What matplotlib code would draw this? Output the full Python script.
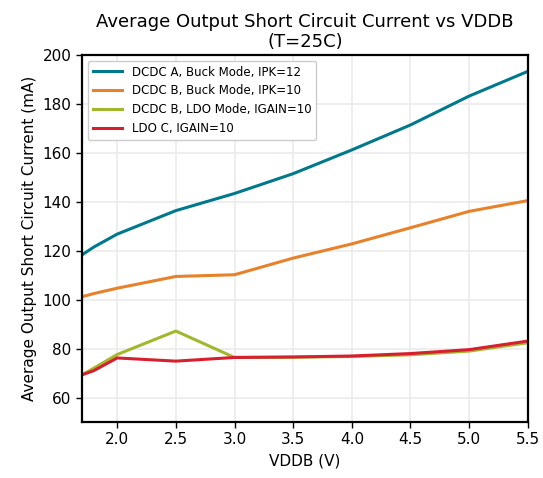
import matplotlib.pyplot as plt

# supply voltage sweep
vddb = [1.7, 1.8, 2.0, 2.5, 3.0, 3.5, 4.0, 4.5, 5.0, 5.5]

# average short circuit current (mA)
dcdc_a_buck = [118.3, 121.5, 126.8, 136.4, 143.4, 151.5, 161.2, 171.4, 183.2, 193.3]
dcdc_b_buck = [101.2, 102.5, 104.7, 109.5, 110.2, 117.0, 122.8, 129.4, 136.1, 140.5]
dcdc_b_ldo = [69.3, 72.0, 77.6, 87.2, 76.4, 76.5, 76.8, 77.5, 79.0, 82.4]
ldo_c = [69.3, 71.0, 76.2, 74.9, 76.4, 76.6, 77.0, 78.0, 79.6, 83.1]

series = [
    ("DCDC A, Buck Mode, IPK=12", dcdc_a_buck, "#00798c"),
    ("DCDC B, Buck Mode, IPK=10", dcdc_b_buck, "#e8822a"),
    ("DCDC B, LDO Mode, IGAIN=10", dcdc_b_ldo, "#a2b82c"),
    ("LDO C, IGAIN=10", ldo_c, "#d7202f"),
]

fig = plt.figure(figsize=(5.43, 4.78), dpi=100)
ax = fig.add_axes([0.151, 0.117, 0.821, 0.768])

for label, vals, color in series:
    ax.plot(vddb, vals, color=color, lw=2.2, label=label)

ax.set_xlim(1.7, 5.5)
ax.set_ylim(50, 200)
ax.set_xticks([2.0, 2.5, 3.0, 3.5, 4.0, 4.5, 5.0, 5.5])
ax.set_yticks([60, 80, 100, 120, 140, 160, 180, 200])
ax.grid(color="#ebebeb", lw=1.2)
ax.set_axisbelow(True)
for s in ax.spines.values():
    s.set_linewidth(1.6)
    s.set_color("black")
ax.tick_params(labelsize=11, length=4, width=1)

ax.set_xlabel("VDDB (V)", fontsize=11)
ax.set_ylabel("Average Output Short Circuit Current (mA)", fontsize=11)
ax.set_title("Average Output Short Circuit Current vs VDDB\n(T=25C)",
             fontsize=13, linespacing=1.1)

ax.legend(loc="upper left", fontsize=8.5, frameon=True, framealpha=1,
          edgecolor="#cccccc", handlelength=2.5)

plt.savefig("out.png", dpi=100)
